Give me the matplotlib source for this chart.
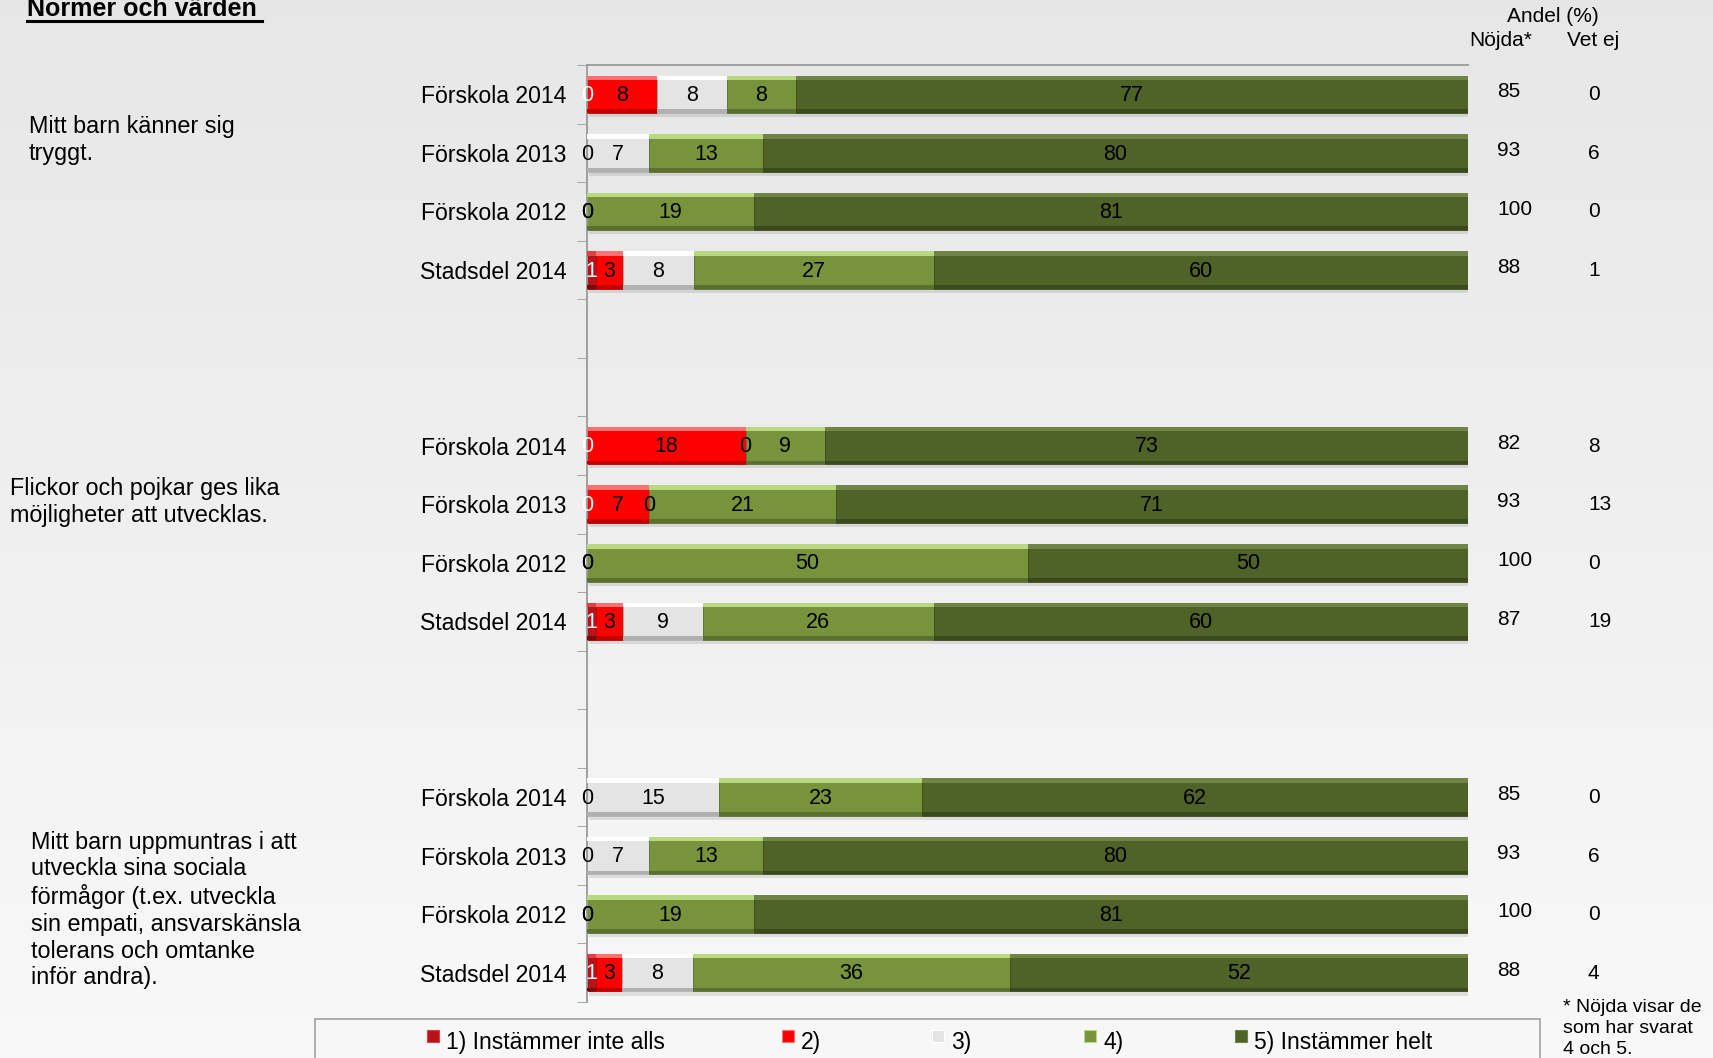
import numpy as np
import matplotlib
matplotlib.use("Agg")
import matplotlib.pyplot as plt
from matplotlib.patches import Rectangle
from matplotlib.transforms import blended_transform_factory

plt.rcParams['font.family'] = ['Liberation Sans', 'DejaVu Sans']

# ---------------- data ----------------
title = "Normer och värden"
questions = [
    "Mitt barn känner sig\ntryggt.",
    "Flickor och pojkar ges lika\nmöjligheter att utvecklas.",
    "Mitt barn uppmuntras i att\nutveckla sina sociala\nförmågor (t.ex. utveckla\nsin empati, ansvarskänsla\ntolerans och omtanke\ninför andra).",
]
row_labels = ["Förskola 2014", "Förskola 2013", "Förskola 2012", "Stadsdel 2014"]
series_names = ["1) Instämmer inte alls", "2)", "3)", "4)", "5) Instämmer helt"]
s1 = [0, 0, 0, 1,   0, 0, 0, 1,   0, 0, 0, 1]
s2 = [8, 0, 0, 3,   18, 7, 0, 3,  0, 0, 0, 3]
s3 = [8, 7, 0, 8,   0, 0, 0, 9,   15, 7, 0, 8]
s4 = [8, 13, 19, 27, 9, 21, 50, 26, 23, 13, 19, 36]
s5 = [77, 80, 81, 60, 73, 71, 50, 60, 62, 80, 81, 52]
nojda = [85, 93, 100, 88, 82, 93, 100, 87, 85, 93, 100, 88]
vetej = [0, 6, 0, 1, 8, 13, 0, 19, 0, 6, 0, 4]
header_group = "Andel (%)"
header_cols = ["Nöjda*", "Vet ej"]
footnote = "* Nöjda visar de\nsom har svarat\n4 och 5."

# ---------------- styles ----------------
base_cols = ['#B8121A', '#FF0000', '#E4E4E4', '#77933C', '#4F6228']
light_cols = ['#E04040', '#FF7070', '#FFFFFF', '#B9D980', '#6F8445']
dark_cols = ['#7A0A0A', '#C00000', '#B0B0B0', '#5A7030', '#3A4A1C']
lab_cols = ['white', 'black', 'black', 'black', 'black']

W, H = 1713, 1058
fig = plt.figure(figsize=(W / 100, H / 100), dpi=100)

# background gradient
bg = fig.add_axes([0, 0, 1, 1], zorder=-10)
grad = np.linspace(0.905, 0.975, 256).reshape(-1, 1)
bg.imshow(np.dstack([grad, grad, grad]), aspect='auto', extent=[0, 1, 0, 1], origin='upper')
bg.set_axis_off()

def fx(px):
    return px / W

def fy(py):
    return 1 - py / H

ax = fig.add_axes([fx(587), fy(1002), fx(1468) - fx(587), fy(65) - fy(1002)])
ax.set_facecolor('none')

n_groups = 3
per = len(row_labels)
step = per + 2
positions = []
for g in range(n_groups):
    for r in range(per):
        positions.append(g * step + r)
positions = np.array(positions, dtype=float)
n_slots = (n_groups - 1) * step + per

series = [np.array(s, dtype=float) for s in (s1, s2, s3, s4, s5)]
totals = np.sum(series, axis=0)
# bars show the share of each answer (rows are scaled to 100 %)
widths = [s / totals * 100 for s in series]

h = 0.64
left = np.zeros(len(positions))
for i, vals in enumerate(widths):
    ax.barh(positions + 0.07, vals, left=left + 0.25, height=h, color='#000000',
            alpha=0.10, zorder=1, linewidth=0)
    ax.barh(positions, vals, left=left, height=h, color=base_cols[i], zorder=2,
            edgecolor=dark_cols[i], linewidth=0.6)
    ax.barh(positions - h / 2 + h * 0.06, vals, left=left, height=h * 0.12,
            color=light_cols[i], zorder=3, linewidth=0)
    ax.barh(positions + h / 2 - h * 0.05, vals, left=left, height=h * 0.10,
            color=dark_cols[i], zorder=3, linewidth=0)
    left = left + vals

left = np.zeros(len(positions))
for i, (vals, raw) in enumerate(zip(widths, series)):
    for p, l, v, rv in zip(positions, left, vals, raw):
        ax.text(l + v / 2, p + 0.02, f"{int(rv)}", ha='center', va='center',
                fontsize=15.5, color=lab_cols[i], zorder=5)
    left = left + vals

ax.set_xlim(0, 100)
ax.set_ylim(n_slots - 0.5, -0.5)

ax.set_yticks(positions)
ax.set_yticklabels(row_labels * n_groups, fontsize=16.6)
ax.set_yticks(np.arange(-0.5, n_slots, 1.0), minor=True)
ax.tick_params(axis='y', which='major', length=0, pad=15)
ax.tick_params(axis='y', which='minor', length=7, color='#9A9A9A', direction='out')
ax.tick_params(axis='x', which='both', length=0, labelbottom=False, labeltop=False)
for s in ['bottom', 'right']:
    ax.spines[s].set_visible(False)
for s in ['left', 'top']:
    ax.spines[s].set_color('#9A9A9A')
    ax.spines[s].set_linewidth(1.3)

# right columns
tr = blended_transform_factory(fig.transFigure, ax.transData)
for p, nv, vv in zip(positions, nojda, vetej):
    ax.text(fx(1497), p - 0.04, f"{nv}", transform=tr, ha='left', va='center', fontsize=15)
    ax.text(fx(1588), p + 0.01, f"{vv}", transform=tr, ha='left', va='center', fontsize=15)

fig.text(fx(1553), fy(17), header_group, ha='center', va='center', fontsize=15)
fig.text(fx(1501), fy(41), header_cols[0], ha='center', va='center', fontsize=15)
fig.text(fx(1593), fy(41), header_cols[1], ha='center', va='center', fontsize=15)

# title
fig.text(fx(27), fy(16), title, ha='left', va='baseline', fontsize=18, fontweight='bold')
fig.add_artist(plt.Line2D([fx(27), fx(262)], [fy(21), fy(21)], color='black', lw=2.2))

# question texts
q_pos = [(29, 140), (10, 502), (31, 910)]
for q, (xp, yp) in zip(questions, q_pos):
    fig.text(fx(xp), fy(yp), q, ha='left', va='center', fontsize=16.8, linespacing=1.2)

# footnote
fig.text(fx(1563), fy(999), footnote, ha='left', va='top', fontsize=14, linespacing=1.3)

# legend
fig.add_artist(Rectangle((fx(315), fy(1075)), fx(1540) - fx(315), fy(1019) - fy(1075),
                         transform=fig.transFigure, facecolor='#F7F7F7',
                         edgecolor='#A8A8A8', lw=1.3, zorder=1))
mark_x = [427, 782, 932, 1084, 1235]
for name, mx, bc, lc in zip(series_names, mark_x, base_cols, light_cols):
    fig.add_artist(Rectangle((fx(mx), fy(1042)), fx(12), 12 / H,
                             transform=fig.transFigure, facecolor=bc,
                             edgecolor=lc, lw=0.8, zorder=2))
    fig.text(fx(mx + 19), fy(1042), name, ha='left', va='center', fontsize=16.5, zorder=3)

fig.savefig("out.png", dpi=100)
